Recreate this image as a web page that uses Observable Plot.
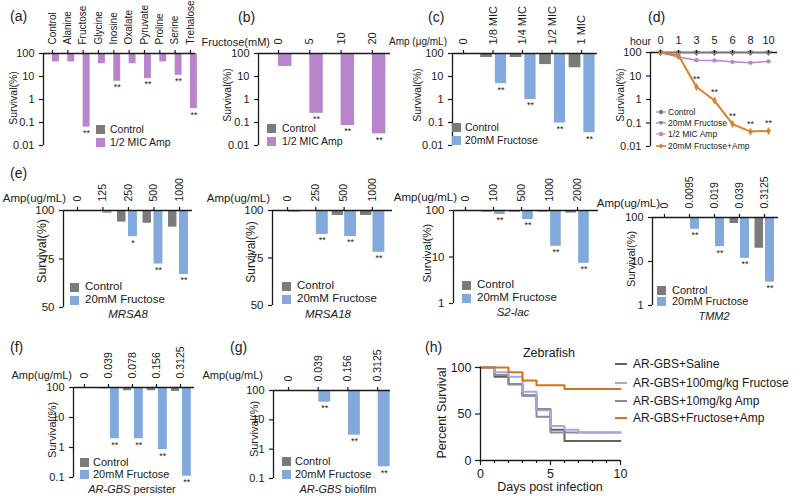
<!DOCTYPE html>
<html><head><meta charset="utf-8">
<script src="https://cdn.jsdelivr.net/npm/d3@7"></script>
<script src="https://cdn.jsdelivr.net/npm/@observablehq/plot@0.6"></script>
<style>
html,body{margin:0;padding:0;background:#fff;}
#root{position:relative;width:800px;height:496px;overflow:hidden;background:#fff;font-family:"Liberation Sans",Arial,Helvetica,sans-serif;color:#1a1a1a;}
.t{position:absolute;white-space:nowrap;line-height:1;}
.sq{position:absolute;width:9px;height:9px;}
</style></head><body><div id="root"></div>
<script>
// ---------------- data ----------------
const aCats = ["Control","Alanine","Fructose","Glycine","Inosine","Oxalate","Pyruvate","Proline","Serine","Trehalose"];
const aControl = [100,100,100,100,100,100,100,100,100,100];
const aAmp = [43,43,0.063,36,6.2,36,8.1,43,11.3,0.4];
const aStars = ["","","**","","**","","**","","**","**"];

const bCats = ["0","5","10","20"];
const bControl = [100,100,100,100];
const bAmp = [27.5,0.25,0.074,0.032];
const bStars = ["","**","**","**"];

const cCats = ["0","1/8 MIC","1/4 MIC","1/2 MIC","1 MIC"];
const cControl = [100,67,67,33,24];
const cFructose = [100,4.9,1.0,0.094,0.036];
const cStars = ["","**","**","**","**"];

const dHours = ["0","1","3","5","6","8","10"];
const dControl = [100,100,100,100,100,100,100];
const dFructose = [100,100,100,100,100,100,100];
const dAmp = [100,65,47,46,40,37,42];
const dFructoseAmp = [100,75,3.4,0.9,0.09,0.043,0.046];
const dStars = ["","","**","**","**","**","**"];

const e1Cats = ["0","125","250","500","1000"];
const e1Control = [100,100,94,93.4,91.4];
const e1Fructose = [100,98.5,86.5,72.4,67];
const e1Stars = ["","","*","**","**"];

const e2Cats = ["0","250","500","1000"];
const e2Control = [100,100,97.4,97.4];
const e2Fructose = [99,87.4,86.3,78];
const e2Stars = ["","**","**","**"];

const e3Cats = ["0","100","500","1000","2000"];
const e3Control = [100,92,92,92,88];
const e3Fructose = [100,82,64,17,7.3];
const e3Stars = ["","**","**","**","**"];

const e4Cats = ["0","0.0095","0.019","0.039","0.3125"];
const e4Control = [100,100,100,73,20];
const e4Fructose = [100,54,21.7,11.8,3.4];
const e4Stars = ["","**","**","**","**"];

const fCats = ["0","0.039","0.078","0.156","0.3125"];
const fControl = [100,90,78,78,74];
const fFructose = [100,1.95,1.95,0.85,0.11];
const fStars = ["","**","**","**","**"];

const gCats = ["0","0.039","0.156","0.3125"];
const gControl = [100,100,100,100];
const gFructose = [100,40,3,0.25];
const gStars = ["","**","**","**"];

const hSaline   = [[0,100],[1,90],[2,82],[3,70],[4,55],[5,33],[6,21],[10,21]];
const hFructose = [[0,100],[1,95],[2,90],[3,74],[4,54],[5,37],[6,33],[7,30],[10,30]];
const hAmp      = [[0,100],[1,92],[2,82],[3,70],[4,47],[5,30],[10,30]];
const hFruAmp   = [[0,100],[2,95],[3,86],[4,81],[6,77],[10,77]];
const hNames = ["AR-GBS+Saline","AR-GBS+100mg/kg Fructose","AR-GBS+10mg/kg Amp","AR-GBS+Fructose+Amp"];

// ---------------- styles ----------------
const FONT = '"Liberation Sans", Arial, Helvetica, sans-serif';
const INK = "#1a1a1a";
const GREY = "#7b7b7b";
const PURPLE = "#b884cc";
const BLUE = "#82a9db";
const ORANGE = "#d9822b";
const H_COLORS = ["#626262","#a9a6de","#8b8b95","#d4731f"];

const root = document.getElementById("root");
function place(el, left, top) {
  el.style.position = "absolute";
  el.style.left = left + "px";
  el.style.top = top + "px";
  root.append(el);
}
function label(s, x, y, o = {}) {
  const el = document.createElement("div");
  el.className = "t";
  if (o.html) el.innerHTML = s; else el.textContent = s;
  el.style.left = x + "px";
  el.style.top = y + "px";
  el.style.fontSize = (o.size || 11) + "px";
  if (o.italic) el.style.fontStyle = "italic";
  const ax = o.anchor === "middle" ? "-50%" : o.anchor === "end" ? "-100%" : "0";
  el.style.transform = o.rotate ? "translate(-50%,-50%) rotate(-90deg)" : `translate(${ax},-50%)`;
  root.append(el);
  return el;
}
function legend(sx, tx, ys, items, size) {
  items.forEach(([txt, color], k) => {
    const s = document.createElement("div");
    s.className = "sq";
    s.style.left = sx + "px";
    s.style.top = (ys[k] - 4.5) + "px";
    s.style.background = color;
    root.append(s);
    label(txt, tx, ys[k], {size});
  });
}
const baseStyle = (fs) => ({fontFamily: FONT, fontSize: fs + "px", color: INK, background: "transparent", overflow: "visible"});

function barPanel(p) {
  const [fx0, fy0, fx1, fy1] = p.frame;
  const mL = 50, mT = 62, mR = 4, mB = 4;
  const D0 = -(p.tick0 - fx0) / p.step, D1 = (fx1 - p.tick0) / p.step;
  const rows = p.cats.map((c, i) => ({i, ctrl: p.ctrl[i], trt: p.trt[i], s: p.stars[i]}));
  const top = p.yDomain[1];
  const svg = Plot.plot({
    width: fx1 - fx0 + mL + mR,
    height: fy1 - fy0 + mT + mB,
    marginLeft: mL, marginTop: mT, marginRight: mR, marginBottom: mB,
    style: baseStyle(p.fs || 11),
    x: {type: "linear", domain: [D0, D1]},
    y: {type: p.yType, domain: p.yDomain},
    marks: [
      Plot.rect(rows, {x1: d => d.i + p.cBar[0], x2: d => d.i + p.cBar[1], y1: top, y2: "ctrl", fill: GREY}),
      Plot.rect(rows, {x1: d => d.i + p.tBar[0], x2: d => d.i + p.tBar[1], y1: top, y2: "trt", fill: p.color}),
      Plot.text(rows, {x: d => d.i + (p.tBar[0] + p.tBar[1]) / 2, y: "trt", text: "s", dy: 6, fontSize: 9, fill: INK}),
      Plot.ruleY([top], {stroke: INK, strokeWidth: 1.3}),
      Plot.ruleX([D0], {y1: p.yDomain[0], y2: top, stroke: INK, strokeWidth: 1.3}),
      Plot.axisY({ticks: p.yTicks, tickFormat: d => String(d), tickSize: 4, label: null, strokeWidth: 1.2}),
      Plot.axisX({anchor: "top", ticks: p.cats.map((c, i) => i), tickFormat: i => p.cats[i], tickRotate: -90, tickSize: 4, label: null, fontSize: p.xfs || 11, strokeWidth: 1.2})
    ]
  });
  place(svg, fx0 - mL, fy0 - mT);
}

// ---------------- row 1 ----------------
const logTicks4 = [0.01, 0.1, 1, 10, 100];
barPanel({frame: [43, 53, 195, 145], tick0: 52, step: 15.33, cats: aCats, ctrl: aControl, trt: aAmp, stars: aStars,
  color: PURPLE, yType: "log", yDomain: [0.01, 100], yTicks: logTicks4, cBar: [-0.45, 0], tBar: [0, 0.45], fs: 11, xfs: 10});
barPanel({frame: [258, 53, 390, 145], tick0: 278, step: 31.3, cats: bCats, ctrl: bControl, trt: bAmp, stars: bStars,
  color: PURPLE, yType: "log", yDomain: [0.01, 100], yTicks: logTicks4, cBar: [-0.44, 0], tBar: [0, 0.43], fs: 11});
barPanel({frame: [452, 53, 597, 145], tick0: 463, step: 29.5, cats: cCats, ctrl: cControl, trt: cFructose, stars: cStars,
  color: BLUE, yType: "log", yDomain: [0.01, 100], yTicks: logTicks4, cBar: [-0.42, -0.02], tBar: [0.08, 0.46], fs: 11});

// (d) time course
(function () {
  const fx0 = 650, fy0 = 52, fx1 = 777, fy1 = 146, tick0 = 660, step = 18;
  const mL = 50, mT = 62, mR = 4, mB = 4;
  const D0 = -(tick0 - fx0) / step, D1 = (fx1 - tick0) / step;
  const ser = vals => vals.map((v, i) => ({i, v, s: dStars[i]}));
  const svg = Plot.plot({
    width: fx1 - fx0 + mL + mR, height: fy1 - fy0 + mT + mB,
    marginLeft: mL, marginTop: mT, marginRight: mR, marginBottom: mB,
    style: baseStyle(11),
    x: {type: "linear", domain: [D0, D1]},
    y: {type: "log", domain: [0.01, 100]},
    marks: [
      Plot.ruleY([100], {stroke: INK, strokeWidth: 1.3}),
      Plot.ruleX([D0], {y1: 0.01, y2: 100, stroke: INK, strokeWidth: 1.3}),
      Plot.line(ser(dAmp), {x: "i", y: "v", stroke: PURPLE, strokeWidth: 1.5}),
      Plot.dot(ser(dAmp), {x: "i", y: "v", fill: PURPLE, r: 2.2}),
      Plot.line(ser(dControl), {x: "i", y: "v", stroke: GREY, strokeWidth: 1.5}),
      Plot.dot(ser(dFructose), {x: "i", y: "v", fill: GREY, symbol: "triangle", rotate: 180, r: 2.4}),
      Plot.dot(ser(dControl), {x: "i", y: "v", fill: GREY, r: 2.2}),
      Plot.line(ser(dFructoseAmp), {x: "i", y: "v", stroke: ORANGE, strokeWidth: 2}),
      Plot.dot(ser(dFructoseAmp), {x: "i", y: "v", fill: ORANGE, symbol: "diamond", r: 2.4}),
      Plot.text(ser(dFructoseAmp), {x: "i", y: "v", text: "s", dy: -8, fontSize: 9, fill: INK}),
      Plot.axisY({ticks: logTicks4, tickFormat: d => String(d), tickSize: 4, label: null, strokeWidth: 1.2}),
      Plot.axisX({anchor: "top", ticks: dHours.map((h, i) => i), tickFormat: i => dHours[i], tickSize: 3, label: null, fontSize: 11, strokeWidth: 1.2})
    ]
  });
  place(svg, fx0 - mL, fy0 - mT);
})();

// ---------------- row 2 ----------------
barPanel({frame: [63, 210, 192, 307], tick0: 77, step: 25.5, cats: e1Cats, ctrl: e1Control, trt: e1Fructose, stars: e1Stars,
  color: BLUE, yType: "linear", yDomain: [50, 100], yTicks: [50, 75, 100], cBar: [-0.43, -0.1], tBar: [0, 0.35], fs: 11.5, xfs: 10.5});
barPanel({frame: [272, 210, 392, 305], tick0: 287, step: 28.3, cats: e2Cats, ctrl: e2Control, trt: e2Fructose, stars: e2Stars,
  color: BLUE, yType: "linear", yDomain: [50, 100], yTicks: [50, 75, 100], cBar: [-0.42, -0.02], tBar: [0.02, 0.44], fs: 11.5, xfs: 10.5});
barPanel({frame: [453, 210, 598, 303], tick0: 465, step: 28, cats: e3Cats, ctrl: e3Control, trt: e3Fructose, stars: e3Stars,
  color: BLUE, yType: "log", yDomain: [1, 100], yTicks: [1, 10, 100], cBar: [-0.42, -0.04], tBar: [0.04, 0.42], fs: 11.5, xfs: 10.5});
barPanel({frame: [652, 217, 778, 305], tick0: 664, step: 25, cats: e4Cats, ctrl: e4Control, trt: e4Fructose, stars: e4Stars,
  color: BLUE, yType: "log", yDomain: [1, 100], yTicks: [1, 10, 100], cBar: [-0.38, -0.04], tBar: [0.04, 0.4], fs: 11, xfs: 10.5});

// ---------------- row 3 ----------------
const logTicks3 = [0.1, 1, 10, 100];
barPanel({frame: [73, 387, 194, 477], tick0: 84, step: 24, cats: fCats, ctrl: fControl, trt: fFructose, stars: fStars,
  color: BLUE, yType: "log", yDomain: [0.1, 100], yTicks: logTicks3, cBar: [-0.38, -0.04], tBar: [0.08, 0.45], fs: 11, xfs: 10.5});
barPanel({frame: [273, 390, 390, 478], tick0: 288, step: 29.7, cats: gCats, ctrl: gControl, trt: gFructose, stars: gStars,
  color: BLUE, yType: "log", yDomain: [0.1, 100], yTicks: logTicks3, cBar: [-0.4, -0.03], tBar: [0.02, 0.42], fs: 11, xfs: 10.5});

// (h) survival curves
(function () {
  const fx0 = 480, fy0 = 367, fx1 = 620, fy1 = 460;
  const mL = 40, mT = 8, mR = 8, mB = 24;
  const series = [hSaline, hAmp, hFructose, hFruAmp];
  const colors = [H_COLORS[0], H_COLORS[2], H_COLORS[1], H_COLORS[3]];
  const svg = Plot.plot({
    width: fx1 - fx0 + mL + mR, height: fy1 - fy0 + mT + mB,
    marginLeft: mL, marginTop: mT, marginRight: mR, marginBottom: mB,
    style: baseStyle(12.5),
    x: {type: "linear", domain: [0, 10]},
    y: {type: "linear", domain: [0, 100]},
    marks: [
      ...series.map((s, k) => Plot.line(s, {x: d => d[0], y: d => d[1], curve: "step-after", stroke: colors[k], strokeWidth: 2})),
      Plot.ruleX([0], {y1: 0, y2: 100, stroke: INK, strokeWidth: 1.3}),
      Plot.ruleY([0], {x1: 0, x2: 10, stroke: INK, strokeWidth: 1.3}),
      Plot.axisY({ticks: [0, 50, 100], tickSize: 5, label: null, strokeWidth: 1.2}),
      Plot.axisX({ticks: [0, 5, 10], tickSize: 5, label: null, strokeWidth: 1.2}),
      Plot.axisX({ticks: [1, 2, 3, 4, 6, 7, 8, 9], tickSize: 3, tickFormat: () => "", label: null, strokeWidth: 1.2})
    ]
  });
  place(svg, fx0 - mL, fy0 - mT);
})();

// ---------------- text: panel letters, axis titles, legends ----------------
[["(a)", 10, 16], ["(b)", 238, 17], ["(c)", 428, 17], ["(d)", 648, 17], ["(e)", 10, 173],
 ["(f)", 10, 347], ["(g)", 230, 347], ["(h)", 425, 347]].forEach(([s, x, y]) => label(s, x, y, {size: 14}));

[[13, 98, 10.5], [227, 95, 10.5], [417, 95, 10.5], [620, 95, 10.5], [42, 251, 12.5], [251, 252, 12],
 [428, 253, 11.5], [631, 259, 11], [52, 430, 11], [254, 429, 11]].forEach(([x, y, s]) => label("Survival(%)", x, y, {size: s, rotate: true}));

label("Fructose(mM)", 270, 42, {anchor: "end", size: 11});
label("Amp (μg/mL)", 447, 42, {anchor: "end", size: 10});
label("hour", 651, 41, {anchor: "end", size: 10.5});
[[66, 199], [270, 199], [457, 198], [660, 204]].forEach(([x, y]) => label("Amp(ug/mL)", x, y, {anchor: "end", size: 11.5}));
[[72, 375], [263, 375]].forEach(([x, y]) => label("Amp(ug/mL)", x, y, {anchor: "end", size: 11}));

legend(96, 110, [129, 142], [["Control", GREY], ["1/2 MIC Amp", PURPLE]], 10.5);
legend(267, 282, [128, 141], [["Control", GREY], ["1/2 MIC Amp", PURPLE]], 10.5);
legend(452, 465, [127, 140], [["Control", GREY], ["20mM Fructose", BLUE]], 10.5);
legend(70, 85, [287, 300], [["Control", GREY], ["20mM Fructose", BLUE]], 11.5);
legend(282, 297, [286, 299], [["Control", GREY], ["20mM Fructose", BLUE]], 11.5);
legend(462, 477, [285, 298], [["Control", GREY], ["20mM Fructose", BLUE]], 11.5);
legend(657, 672, [290, 301], [["Control", GREY], ["20mM Fructose", BLUE]], 11);
legend(80, 93, [462, 474], [["Control", GREY], ["20mM Fructose", BLUE]], 11);
legend(282, 295, [461, 474], [["Control", GREY], ["20mM Fructose", BLUE]], 11);

label("MRSA8", 128, 315, {anchor: "middle", italic: true, size: 11.5});
label("MRSA18", 328, 315, {anchor: "middle", italic: true, size: 11.5});
label("S2-lac", 513, 313, {anchor: "middle", italic: true, size: 11.5});
label("TMM2", 714, 316, {anchor: "middle", italic: true, size: 11});
label("<i>AR-GBS</i> persister", 132, 489, {anchor: "middle", html: true, size: 11});
label("<i>AR-GBS</i> biofilm", 338, 489, {anchor: "middle", html: true, size: 11});

// (d) legend
(function () {
  const items = [["Control", GREY, "circle"], ["20mM Fructose", GREY, "tri"], ["1/2 MIC Amp", PURPLE, "circle"], ["20mM Fructose+Amp", ORANGE, "line"]];
  const ys = [112, 123, 134, 146];
  items.forEach(([txt, col, sym], k) => {
    const ns = "http://www.w3.org/2000/svg";
    const s = document.createElementNS(ns, "svg");
    s.setAttribute("width", 12); s.setAttribute("height", 10);
    let inner = "";
    if (sym === "circle") inner = `<line x1="1" x2="11" y1="5" y2="5" stroke="${col}" stroke-width="1"/><circle cx="6" cy="5" r="2.2" fill="${col}"/>`;
    else if (sym === "tri") inner = `<line x1="1" x2="11" y1="5" y2="5" stroke="${col}" stroke-width="1"/><path d="M3.5,3.3 L8.5,3.3 L6,7.3 Z" fill="${col}"/>`;
    else inner = `<line x1="1" x2="11" y1="5" y2="5" stroke="${col}" stroke-width="1.6"/><path d="M6,2.6 L8.4,5 L6,7.4 L3.6,5 Z" fill="${col}"/>`;
    s.innerHTML = inner;
    place(s, 655, ys[k] - 5);
    label(txt, 668, ys[k], {size: 8.5});
  });
})();

// (h) texts and legend
label("Zebrafish", 549, 353, {anchor: "middle", size: 12.5});
label("Days post infection", 550, 487, {anchor: "middle", size: 12.5});
label("Percent Survival", 442, 413, {rotate: true, size: 12.5});
[364, 383, 401, 418].forEach((y, k) => {
  const ln = document.createElement("div");
  ln.style.position = "absolute";
  ln.style.left = "615px"; ln.style.top = (y - 1) + "px";
  ln.style.width = "12px"; ln.style.height = "2px";
  ln.style.background = H_COLORS[k];
  root.append(ln);
  label(hNames[k], 633, y, {size: 12});
});
</script></body></html>
